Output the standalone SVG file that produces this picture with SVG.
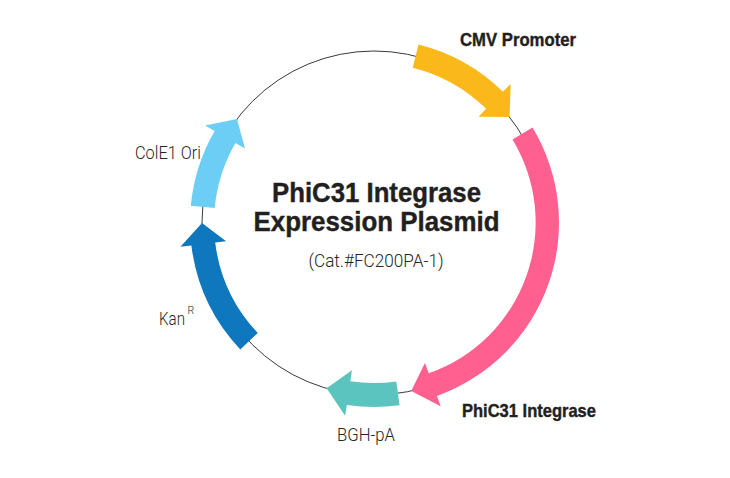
<svg xmlns="http://www.w3.org/2000/svg" width="730" height="478" viewBox="0 0 730 478">
<style>
.bb{font-family:"Liberation Sans",Arial,sans-serif;font-weight:bold;fill:#231F20;stroke:#231F20;stroke-width:0.4}
.lt{font-family:Roboto,"Liberation Sans",Arial,sans-serif;font-weight:300;fill:#262626}
.ring{fill:none;stroke:#3a3a3a;stroke-width:1}
</style>
<rect width="730" height="478" fill="#ffffff"/>
<g id="backbone">
<circle class="ring" cx="374" cy="223" r="172"/>
</g>
<g id="connectors"></g>
<g id="cmv">
<path fill="#FBB81B" d="M418.51,44.46 A184,184 0 0 1 502.97,91.75 L510.68,83.91 L509.54,117.10 L478.43,116.72 L486.14,108.87 A160,160 0 0 0 412.70,67.75 Z"/>
<text class="bb" x="460" y="46" font-size="19" textLength="116" lengthAdjust="spacingAndGlyphs">CMV Promoter</text>
</g>
<g id="integrase">
<path fill="#FF608F" d="M532.5,127.5 A184,184 0 0 1 436.93,395.90 L440.69,406.24 L411.22,390.92 L424.96,363.02 L428.72,373.35 A160,160 0 0 0 512.5,139.5 Z"/>
<text class="bb" x="462" y="416.5" font-size="18.5" textLength="134" lengthAdjust="spacingAndGlyphs">PhiC31 Integrase</text>
</g>
<g id="bgh">
<path fill="#5CC4BF" d="M399.61,405.21 A184,184 0 0 1 346.80,404.98 L345.18,415.86 L326.59,388.34 L351.98,370.36 L350.35,381.24 A160,160 0 0 0 396.27,381.45 Z"/>
<text class="lt" x="337" y="441" font-size="19" textLength="58" lengthAdjust="spacingAndGlyphs">BGH-pA</text>
</g>
<g id="kan">
<path fill="#0E77BD" d="M240.31,349.43 A184,184 0 0 1 191.38,245.43 L180.46,246.77 L202,223 L226.12,241.16 L215.20,242.50 A160,160 0 0 0 257.74,332.94 Z"/>
<text class="lt" x="159" y="324.5" font-size="19" textLength="26" lengthAdjust="spacingAndGlyphs">Kan</text>
<text class="lt" x="187.5" y="313.5" font-size="10.5">R</text>
</g>
<g id="ori">
<path fill="#6CCEF5" d="M190.81,205.69 A184,184 0 0 1 214.65,131 L205.13,125.5 L237.0,119.01 L244.97,148.5 L235.44,143 A160,160 0 0 0 214.70,207.94 Z"/>
<text class="lt" x="135" y="159" font-size="19" textLength="66" lengthAdjust="spacingAndGlyphs">ColE1 Ori</text>
</g>
<g id="title">
<text class="bb" x="272" y="201.5" font-size="27" textLength="209" lengthAdjust="spacingAndGlyphs">PhiC31 Integrase</text>
<text class="bb" x="253.5" y="231" font-size="27" textLength="246" lengthAdjust="spacingAndGlyphs">Expression Plasmid</text>
<text class="lt" x="308.5" y="266.5" font-size="19" textLength="135" lengthAdjust="spacingAndGlyphs">(Cat.#FC200PA-1)</text>
</g>
</svg>
